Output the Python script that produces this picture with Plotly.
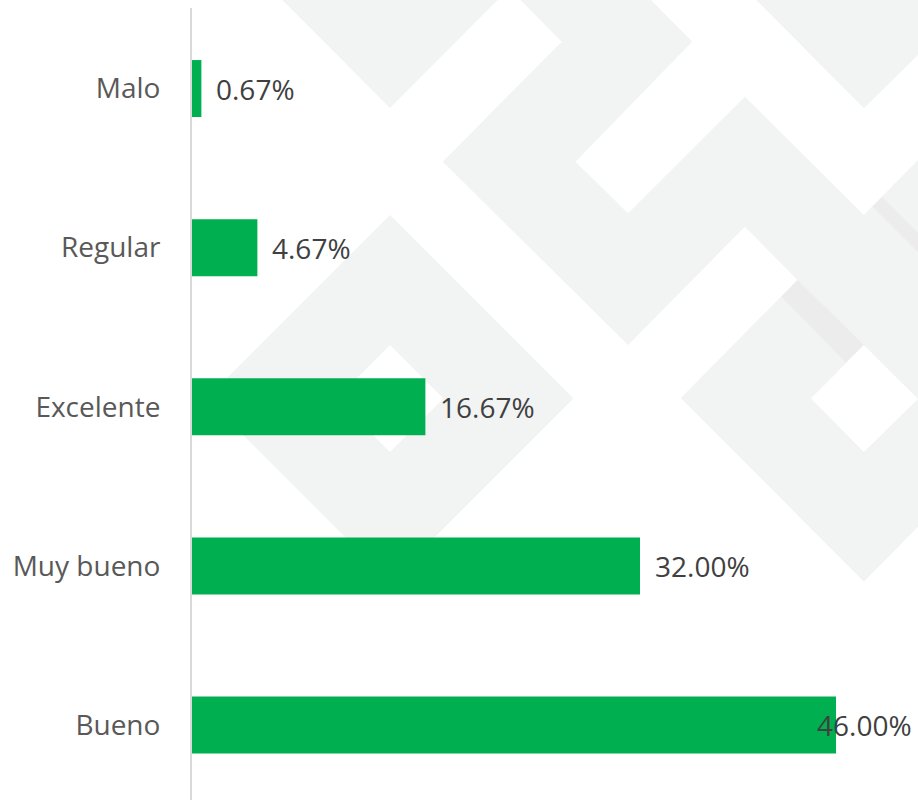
import plotly.graph_objects as go

# ---- data ----
categories = ["Malo", "Regular", "Excelente", "Muy bueno", "Bueno"]
values = [0.67, 4.67, 16.67, 32.00, 46.00]
value_labels = [f"{v:.2f}%" for v in values]

# ---- layout geometry ----
W, H = 918, 800
L, R, T, B = 192, 0, 8, 0
PW, PH = W - L - R, H - T - B
XMAX = PW / 14.0

BAR_COLOR = "#00B050"
BG_GREY = "#f2f3f3"
BG_DARK = "#ececec"


def path(pts):
    s = ""
    for i, (X, Y) in enumerate(pts):
        x = (X - L) / PW
        y = 1 - (Y - T) / PH
        s += ("M" if i == 0 else "L") + f"{x:.5f},{y:.5f} "
    return s + "Z"


# decorative background (light grey geometric pattern), pixel outlines
decor = [
    ([(282.4, 0), (497.6, 0), (390, 108)], BG_GREY),
    ([(390, 215), (573.5, 398.5), (390, 582), (206.5, 398.5)], BG_GREY),
    ([(390, 345), (443.5, 398.5), (390, 452), (336.5, 398.5)], "#ffffff"),
    ([(520.5, 0), (561.7, 41.7), (442.7, 161.7), (628.1, 345), (744.9, 226.7),
      (797.5, 280), (680.8, 398), (863.9, 581.7), (918, 526.7), (918, 160),
      (863.9, 215), (744.9, 96.7), (628.1, 213.3), (575.5, 161.7),
      (692.2, 41.7), (651, 0)], BG_GREY),
    ([(797.5, 280), (863.9, 345), (845.6, 362.5), (781.5, 296.5)], BG_DARK),
    ([(882, 197), (918, 233), (918, 252), (872.5, 206.5)], BG_DARK),
    ([(863.9, 345), (918, 399), (863.9, 452), (810.8, 398.5)], "#ffffff"),
    ([(756.3, 0), (918, 0), (918, 55), (863.9, 108.3)], BG_GREY),
]

shapes = [
    dict(type="path", path=path(pts), xref="paper", yref="paper",
         fillcolor=col, line=dict(width=0), layer="below")
    for pts, col in decor
]

fig = go.Figure()
fig.add_trace(go.Bar(
    x=values, y=categories, orientation="h", width=0.358,
    marker=dict(color=BAR_COLOR, line=dict(width=0)),
    hoverinfo="skip",
))

annotations = []
for cat, v, txt in zip(categories, values, value_labels):
    if v > 0.8 * XMAX:
        annotations.append(dict(x=XMAX, y=cat, xref="x", yref="y", text=txt,
                                showarrow=False, xanchor="right", yanchor="middle",
                                xshift=-4,
                                font=dict(family="Open Sans", size=28, color="#404040")))
    else:
        annotations.append(dict(x=v, y=cat, xref="x", yref="y", text=txt,
                                showarrow=False, xanchor="left", yanchor="middle",
                                xshift=13,
                                font=dict(family="Open Sans", size=28, color="#404040")))

fig.update_layout(
    width=W, height=H,
    margin=dict(l=L, r=R, t=T, b=B, pad=0),
    paper_bgcolor="#ffffff",
    plot_bgcolor="rgba(0,0,0,0)",
    showlegend=False,
    shapes=shapes,
    annotations=annotations,
    xaxis=dict(range=[0, XMAX], visible=False, showgrid=False, zeroline=False,
               fixedrange=True),
    yaxis=dict(type="category", categoryorder="array", categoryarray=categories,
               range=[4.471, -0.506], showline=True, linecolor="#d9d9d9",
               linewidth=2, ticks="", showgrid=False, zeroline=False,
               automargin=False, ticklabelstandoff=24,
               tickfont=dict(family="Open Sans", size=28, color="#595959"),
               fixedrange=True),
)

fig.write_html(
    "out.html",
    config={"displayModeBar": False},
    post_script="document.body.style.margin='0';document.body.style.overflow='hidden';",
)
